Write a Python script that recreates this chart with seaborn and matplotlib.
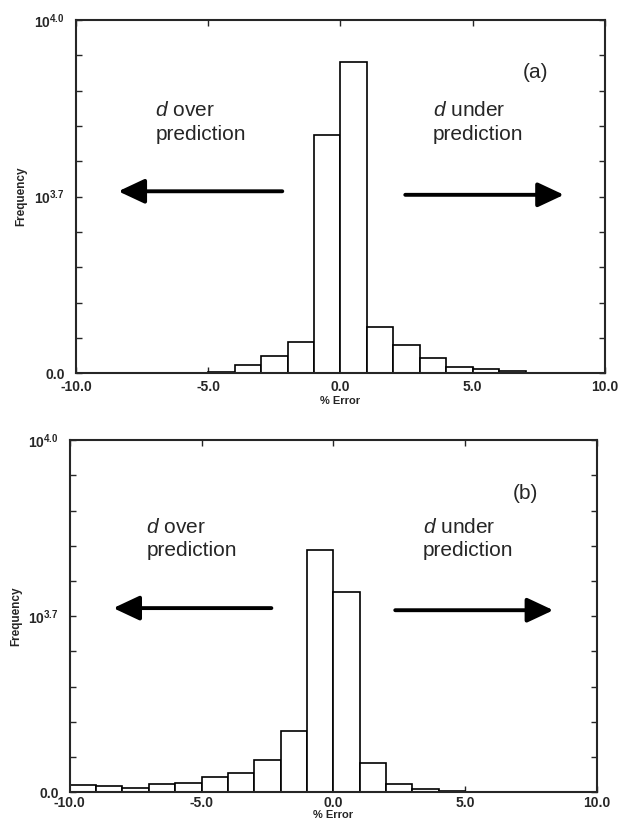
import matplotlib
matplotlib.use("Agg")
import matplotlib.pyplot as plt
import seaborn as sns
import numpy as np

# bin edges (% error), 1 % wide bins
bin_edges = list(range(-10, 11))
bin_centers = [e + 0.5 for e in bin_edges[:-1]]

# counts per bin, panel (a)
counts_a = [0, 0, 0, 0, 0, 50, 230, 490, 890, 6740, 8820, 1320, 790, 425, 180, 120, 80, 0, 0, 0]
# counts per bin, panel (b)
counts_b = [210, 170, 125, 220, 265, 435, 530, 920, 1750, 6870, 5680, 820, 236, 75, 30, 15, 0, 0, 0, 0]

x_ticks = [-10, -5, 0, 5, 10]
x_labels = ["-10.0", "-5.0", "0.0", "5.0", "10.0"]
y_ticks = [0, 5000, 10000]
y_labels = ["0.0", r"$\mathbf{10^{3.7}}$", r"$\mathbf{10^{4.0}}$"]

sns.set_style("ticks")
plt.rcParams["font.family"] = ["Liberation Sans", "DejaVu Sans"]
plt.rcParams["mathtext.fontset"] = "custom"
plt.rcParams["mathtext.rm"] = "Liberation Sans"
plt.rcParams["mathtext.it"] = "Liberation Sans:italic"
plt.rcParams["mathtext.bf"] = "Liberation Sans:bold"

fig = plt.figure(figsize=(6.23, 8.26), dpi=100)
ax_a = fig.add_axes([0.122, 0.548, 0.849, 0.428])
ax_b = fig.add_axes([0.112, 0.041, 0.846, 0.426])


def panel(ax, counts, tag, arrows, texts, ylabpad, xlabpad, xpad):
    sns.histplot(x=bin_centers, weights=counts, bins=bin_edges, ax=ax,
                 color="white", edgecolor="black", linewidth=1.2, alpha=1)
    ax.set_xlim(-10, 10)
    ax.set_ylim(0, 10000)
    ax.set_xticks(x_ticks)
    ax.set_xticklabels(x_labels, fontsize=10, fontweight="bold")
    ax.set_yticks(y_ticks)
    ax.set_yticklabels(y_labels, fontsize=10, fontweight="bold")
    ax.set_yticks(np.arange(0, 10001, 1000), minor=True)
    ax.tick_params(which="both", direction="in", top=True, right=True, length=4, width=1)
    ax.tick_params(axis="x", pad=xpad)
    ax.tick_params(axis="y", pad=8)
    ax.set_xlabel("% Error", fontsize=8, fontweight="bold", labelpad=xlabpad)
    ax.set_ylabel("Frequency", fontsize=8.5, fontweight="bold", labelpad=ylabpad)
    for s in ax.spines.values():
        s.set_linewidth(1.5)
    for (x0, y0), (x1, y1) in arrows:
        ax.annotate("", xy=(x1, y1), xytext=(x0, y0),
                    arrowprops=dict(arrowstyle="-|>,head_length=1.6,head_width=0.75",
                                    lw=2.8, color="black", mutation_scale=10,
                                    shrinkA=0, shrinkB=0))
    for x, y, word in texts:
        ax.text(x, y, r"$\mathit{d}$" + f" {word}\nprediction", fontsize=15,
                va="center", ha="left", linespacing=1.3)
    ax.text(tag[1], tag[2], tag[0], fontsize=15, ha="left", va="center")


panel(ax_a, counts_a, ("(a)", 6.9, 8500),
      [((-2.2, 5150), (-8.4, 5150)), ((2.45, 5050), (8.45, 5050))],
      [(-7.0, 7100, "over"), (3.5, 7100, "under")], 5, 1, 5)
panel(ax_b, counts_b, ("(b)", 6.8, 8500),
      [((-2.35, 5230), (-8.35, 5230)), ((2.35, 5170), (8.35, 5170))],
      [(-7.1, 7200, "over"), (3.4, 7200, "under")], 4, 0, 3)

fig.savefig("out.png", dpi=100)
